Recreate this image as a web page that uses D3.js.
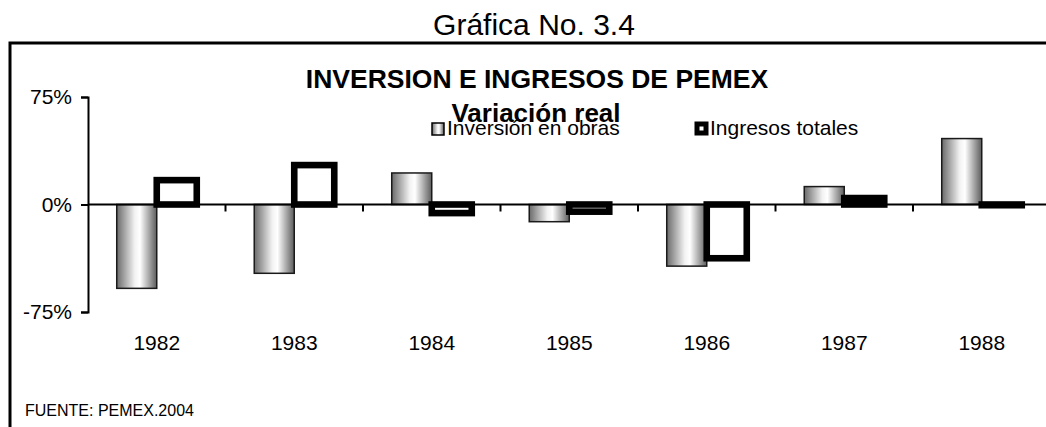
<!DOCTYPE html>
<html>
<head>
<meta charset="utf-8">
<script src="https://cdn.jsdelivr.net/npm/d3@7"></script>
<style>
    body { margin: 0; background: #fff; }
    text { font-family: "Liberation Sans", Arial, sans-serif; fill: #000; }
</style>
</head>
<body>
<div id="chart"></div>
<script>
// data (percent real variation)
const years = ["1982", "1983", "1984", "1985", "1986", "1987", "1988"];
const inversion = [-58.5, -48, 22, -12, -43, 12.5, 46];
const ingresos = [17, 27.5, -6, -5, -37.5, 4.5, -0.5];
const seriesNames = ["Inversión en obras", "Ingresos totales"];
const yTicks = [-75, 0, 75];

const width = 1046;
const height = 427;

let rows = years.map(function(y, i) {
    return {year: y, values: [inversion[i], ingresos[i]]};
});

let svg = d3.select("#chart")
            .append("svg")
            .attr("width", width)
            .attr("height", height);

// cylinder-like gradient of the grey bars
let grad = svg.append("defs").append("linearGradient")
            .attr("id", "cyl")
            .attr("x1", "0%").attr("x2", "100%")
            .attr("y1", "0%").attr("y2", "0%");
grad.append("stop").attr("offset", "0%").attr("stop-color", "#6a6a6a");
grad.append("stop").attr("offset", "45%").attr("stop-color", "#f2f2f2");
grad.append("stop").attr("offset", "58%").attr("stop-color", "#ffffff");
grad.append("stop").attr("offset", "100%").attr("stop-color", "#5c5c5c");

// outer frame (runs off the right and bottom edges)
svg.append("rect")
    .attr("x", 10).attr("y", 43)
    .attr("width", 1100).attr("height", 500)
    .attr("fill", "none")
    .attr("stroke", "#000")
    .attr("stroke-width", 3);

let xScale = d3.scaleBand()
            .domain(years)
            .range([88, 1050.5])
            .paddingInner(0.418)
            .paddingOuter(0.209);

let xSub = d3.scaleBand()
            .domain([0, 1])
            .range([0, xScale.bandwidth()]);

let yScale = d3.scaleLinear()
            .domain([-75, 75])
            .range([312, 97]);

// grey bars
svg.append("g").selectAll("rect")
    .data(rows)
    .enter()
    .append("rect")
    .attr("x", function(d) {return xScale(d.year) + xSub(0);})
    .attr("width", xSub.bandwidth())
    .attr("y", function(d) {return yScale(Math.max(0, d.values[0]));})
    .attr("height", function(d) {return Math.abs(yScale(d.values[0]) - yScale(0));})
    .attr("fill", "url(#cyl)")
    .attr("stroke", "#1a1a1a")
    .attr("stroke-width", 1.5);

// black outlined bars
svg.append("g").selectAll("rect")
    .data(rows)
    .enter()
    .append("rect")
    .attr("x", function(d) {return xScale(d.year) + xSub(1);})
    .attr("width", xSub.bandwidth())
    .attr("y", function(d) {return yScale(Math.max(0, d.values[1]));})
    .attr("height", function(d) {return Math.abs(yScale(d.values[1]) - yScale(0));})
    .attr("fill", "#fff")
    .attr("stroke", "#000")
    .attr("stroke-width", 6.6);

// x axis line and category ticks
let xAxis = svg.append("g").attr("transform", "translate(0," + yScale(0) + ")");
xAxis.append("line")
    .attr("x1", 88).attr("x2", 1060)
    .attr("stroke", "#000").attr("stroke-width", 2);
xAxis.selectAll(".tk")
    .data(years.slice(1))
    .enter()
    .append("line")
    .attr("x1", function(d) {return xScale(d) - xScale.step() * xScale.paddingInner() / 2;})
    .attr("x2", function(d) {return xScale(d) - xScale.step() * xScale.paddingInner() / 2;})
    .attr("y1", 0).attr("y2", 7)
    .attr("stroke", "#000").attr("stroke-width", 2);

svg.append("g").selectAll("text")
    .data(years)
    .enter()
    .append("text")
    .attr("x", function(d) {return xScale(d) + xScale.bandwidth() / 2;})
    .attr("y", 350)
    .attr("text-anchor", "middle")
    .style("font-size", "21px")
    .text(function(d) {return d;});

// y axis
let yAxis = d3.axisLeft(yScale)
            .tickValues(yTicks)
            .tickSize(7)
            .tickPadding(9)
            .tickFormat(function(d) {return d + "%";});

let gy = svg.append("g")
            .attr("transform", "translate(88,0)")
            .call(yAxis);
gy.select(".domain").attr("stroke-width", 2);
gy.selectAll(".tick line").attr("stroke-width", 2);
gy.selectAll(".tick text")
    .style("font-size", "21px")
    .style("font-family", "'Liberation Sans', Arial, sans-serif");

// titles
svg.append("text")
    .attr("x", 534).attr("y", 35)
    .attr("text-anchor", "middle")
    .style("font-size", "30px")
    .text("Gráfica No. 3.4");

svg.append("text")
    .attr("x", 537).attr("y", 88)
    .attr("text-anchor", "middle")
    .style("font-size", "26.5px")
    .style("font-weight", "bold")
    .text("INVERSION E INGRESOS DE PEMEX");

svg.append("text")
    .attr("x", 536).attr("y", 122)
    .attr("text-anchor", "middle")
    .style("font-size", "26px")
    .style("font-weight", "bold")
    .text("Variación real");

// legend
let legend = svg.append("g");
legend.append("rect")
    .attr("x", 432).attr("y", 123)
    .attr("width", 12).attr("height", 12)
    .attr("fill", "url(#cyl)")
    .attr("stroke", "#000").attr("stroke-width", 1.5);
legend.append("text")
    .attr("x", 447).attr("y", 135)
    .style("font-size", "21px")
    .text(seriesNames[0]);

legend.append("rect")
    .attr("x", 697).attr("y", 124)
    .attr("width", 9).attr("height", 9)
    .attr("fill", "#fff")
    .attr("stroke", "#000").attr("stroke-width", 5);
legend.append("text")
    .attr("x", 710).attr("y", 135)
    .style("font-size", "21px")
    .text(seriesNames[1]);

svg.append("text")
    .attr("x", 25).attr("y", 416)
    .style("font-size", "16px")
    .text("FUENTE: PEMEX.2004");
</script>
</body>
</html>
